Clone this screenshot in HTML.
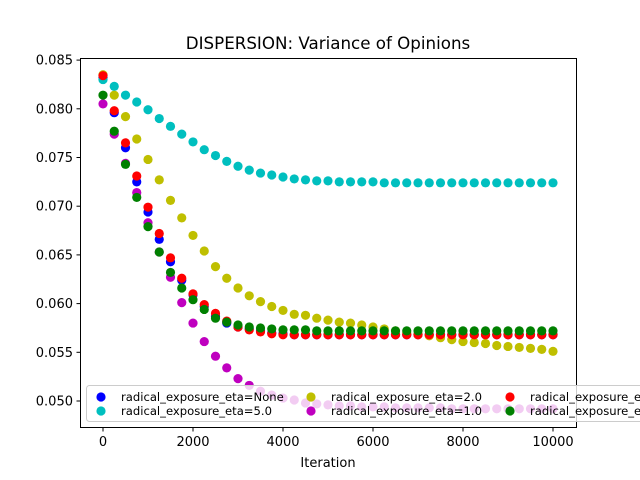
<!DOCTYPE html>
<html><head><meta charset="utf-8"><style>
html,body{margin:0;padding:0;background:#fff;}
svg{display:block;font-family:"DejaVu Sans","Liberation Sans",sans-serif;}
</style></head><body>
<svg id="chart" width="640" height="480" viewBox="0 0 640 480" xmlns="http://www.w3.org/2000/svg">
<rect width="640" height="480" fill="#fff"/>
<text x="328" y="49" font-size="16.7" text-anchor="middle" fill="#000">DISPERSION: Variance of Opinions</text>
<g id="marks"></g>
<rect x="80.5" y="58.5" width="496" height="369" fill="none" stroke="#000" stroke-width="1"/>
<g id="axes"></g>
<text x="328" y="467" font-size="13" text-anchor="middle">Iteration</text>
<g id="legend"></g>
</svg>
<script>
const iterations = Array.from({length:41},(_,i)=>i*250);
const seriesNames = ["radical_exposure_eta=None","radical_exposure_eta=5.0","radical_exposure_eta=2.0","radical_exposure_eta=1.0","radical_exposure_eta=0.5","radical_exposure_eta=0.1"];
const seriesColors = ["#0000ff","#00bfbf","#bfbf00","#bf00bf","#ff0000","#008000"];
const sNone = [0.0832,0.0796,0.0760,0.0725,0.0694,0.0666,0.0643,0.0624,0.0609,0.0597,0.0587,0.0580,0.0576,0.0574,0.0572,0.0570,0.0569,0.0568,0.0568,0.0568,0.0568,0.0568,0.0568,0.0568,0.0568,0.0568,0.0568,0.0568,0.0568,0.0568,0.0568,0.0568,0.0568,0.0568,0.0568,0.0568,0.0568,0.0568,0.0568,0.0568,0.0568];
const s50 = [0.0830,0.0823,0.0814,0.0807,0.0799,0.0790,0.0782,0.0774,0.0766,0.0758,0.0752,0.0746,0.0741,0.0737,0.0734,0.0732,0.0730,0.0728,0.0727,0.0726,0.0726,0.0725,0.0725,0.0725,0.0725,0.0724,0.0724,0.0724,0.0724,0.0724,0.0724,0.0724,0.0724,0.0724,0.0724,0.0724,0.0724,0.0724,0.0724,0.0724,0.0724];
const s20 = [0.0835,0.0814,0.0792,0.0769,0.0748,0.0727,0.0706,0.0688,0.0670,0.0654,0.0638,0.0626,0.0616,0.0608,0.0602,0.0597,0.0593,0.0589,0.0588,0.0585,0.0583,0.0581,0.0580,0.0578,0.0576,0.0574,0.0572,0.0570,0.0568,0.0567,0.0565,0.0563,0.0561,0.0560,0.0559,0.0557,0.0556,0.0555,0.0554,0.0553,0.0551];
const s10 = [0.0805,0.0774,0.0744,0.0714,0.0683,0.0653,0.0627,0.0601,0.0580,0.0561,0.0546,0.0534,0.0523,0.0516,0.0510,0.0506,0.0503,0.0501,0.0498,0.0497,0.0496,0.0495,0.0495,0.0494,0.0494,0.0494,0.0493,0.0493,0.0493,0.0493,0.0493,0.0492,0.0492,0.0492,0.0492,0.0492,0.0492,0.0492,0.0492,0.0492,0.0492];
const sRed = [0.0834,0.0798,0.0765,0.0731,0.0699,0.0672,0.0647,0.0626,0.0610,0.0599,0.0590,0.0582,0.0576,0.0573,0.0571,0.0569,0.0568,0.0568,0.0568,0.0568,0.0568,0.0568,0.0568,0.0568,0.0568,0.0568,0.0568,0.0568,0.0568,0.0568,0.0568,0.0568,0.0568,0.0568,0.0568,0.0568,0.0568,0.0568,0.0568,0.0568,0.0568];
const sGreen = [0.0814,0.0777,0.0743,0.0709,0.0679,0.0653,0.0632,0.0616,0.0604,0.0594,0.0585,0.0581,0.0578,0.0576,0.0575,0.0574,0.0573,0.0573,0.0573,0.0572,0.0572,0.0572,0.0572,0.0572,0.0572,0.0572,0.0572,0.0572,0.0572,0.0572,0.0572,0.0572,0.0572,0.0572,0.0572,0.0572,0.0572,0.0572,0.0572,0.0572,0.0572];
const seriesValues = [sNone,s50,s20,s10,sRed,sGreen];
const xTicks = [0,2000,4000,6000,8000,10000];
const yTicks = [0.050,0.055,0.060,0.065,0.070,0.075,0.080,0.085];

const NS="http://www.w3.org/2000/svg";
const xScale = v => 103 + v*0.045;
const yScale = v => 401 - (v-0.05)*9740;
function mk(tag, attrs, parent){const e=document.createElementNS(NS,tag);for(const k in attrs)e.setAttribute(k,attrs[k]);parent.appendChild(e);return e;}

const marks=document.getElementById('marks');
seriesValues.forEach((vals,si)=>{
  const g=mk('g',{},marks);
  
  
  vals.forEach((v,i)=>{
    const c=mk('circle',{cx:xScale(iterations[i]),cy:yScale(v),r:4.6,fill:seriesColors[si]},g);
    
    
  });
});

const axes=document.getElementById('axes');
xTicks.forEach(t=>{
  const x=xScale(t);
  const l=mk('line',{x1:x,x2:x,y1:427.5,y2:431.5,stroke:'#000'},axes);
  
  
  const tx=mk('text',{x:x,y:446,'font-size':13,'text-anchor':'middle'},axes);
  tx.textContent=String(t);
  
  
});
yTicks.forEach(t=>{
  const y=yScale(t);
  const l=mk('line',{x1:76.5,x2:80.5,y1:y,y2:y,stroke:'#000'},axes);
  
  
  const tx=mk('text',{x:73,y:y+4.5,'font-size':13,'text-anchor':'end'},axes);
  tx.textContent=t.toFixed(3);
  
  
});

const lg=document.getElementById('legend');
const box=mk('rect',{x:86.5,y:385.5,width:600,height:36,rx:3,fill:'#fff','fill-opacity':0.8,stroke:'#ccc'},lg);


const colX=[101,311,510];
const rowY=[397,411];
seriesNames.forEach((n,i)=>{
  const col=Math.floor(i/2), row=i%2;
  const g=mk('g',{},lg);
  
  
  mk('circle',{cx:colX[col],cy:rowY[row],r:4.6,fill:seriesColors[i]},g);
  const t=mk('text',{x:colX[col]+20,y:rowY[row]+4,'font-size':11.6},g);
  t.textContent=n;
});
</script>
</body></html>
